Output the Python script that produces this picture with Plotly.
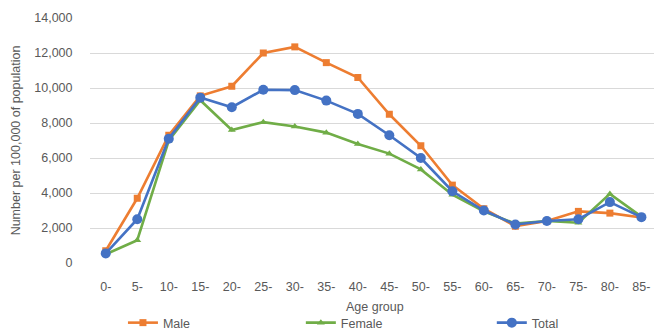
import plotly.graph_objects as go

# Age groups and rates per 100,000 population
age_groups = ["0-", "5-", "10-", "15-", "20-", "25-", "30-", "35-", "40-",
              "45-", "50-", "55-", "60-", "65-", "70-", "75-", "80-", "85-"]
male = [700, 3700, 7300, 9550, 10100, 12000, 12350, 11450, 10600,
        8500, 6700, 4450, 3100, 2100, 2400, 2950, 2850, 2600]
female = [500, 1300, 7000, 9300, 7600, 8050, 7800, 7450, 6800,
          6250, 5350, 3900, 2950, 2250, 2400, 2300, 3950, 2650]
total = [550, 2500, 7100, 9450, 8900, 9900, 9880, 9280, 8520,
         7300, 6000, 4100, 3000, 2200, 2400, 2500, 3480, 2620]
y_ticks = [0, 2000, 4000, 6000, 8000, 10000, 12000, 14000]

font_family = "Liberation Sans"
text_color = "#595959"
font_size = 12.5

fig = go.Figure()
series = [
    ("Male", male, "#ED7D31", "square", 7, "legend", 0.188),
    ("Female", female, "#70AD47", "triangle-up", 7, "legend2", 0.46),
    ("Total", total, "#4472C4", "circle", 10, "legend3", 0.752),
]
legend_layout = {}
for name, vals, color, symbol, size, leg, lx in series:
    fig.add_trace(go.Scatter(
        x=list(range(len(age_groups))), y=vals, name=name,
        mode="lines+markers",
        line=dict(color=color, width=2.6),
        marker=dict(color=color, symbol=symbol, size=size),
        legend=leg,
    ))
    legend_layout[leg] = dict(
        orientation="h", xref="container", yref="container",
        x=lx, y=0.03, xanchor="left", yanchor="middle",
        font=dict(size=font_size, color=text_color, family=font_family),
        itemwidth=30, bgcolor="rgba(0,0,0,0)",
    )

fig.update_layout(
    width=654, height=333,
    margin=dict(l=90, r=0, t=18, b=70, autoexpand=False),
    paper_bgcolor="white", plot_bgcolor="white",
    font=dict(family=font_family, size=font_size, color=text_color),
    showlegend=True,
    **legend_layout,
)
# x-axis title placed as a text annotation below the tick labels
fig.add_annotation(
    text="Age group", xref="paper", yref="paper", x=0.505, y=-0.18,
    xanchor="center", yanchor="middle", showarrow=False,
    font=dict(size=font_size, color=text_color, family=font_family),
)
fig.update_xaxes(
    tickmode="array", tickvals=list(range(len(age_groups))), ticktext=age_groups,
    range=[-0.5, 17.4], showgrid=False, showline=False, zeroline=False,
    ticks="outside", ticklen=12, tickcolor="rgba(0,0,0,0)",
    automargin=False,
)
fig.update_yaxes(
    range=[0, 14000], tickvals=y_ticks,
    ticktext=[f"{v:,}" for v in y_ticks],
    showgrid=True, gridcolor="#D9D9D9", gridwidth=1,
    zeroline=False, showline=False, automargin=False,
    ticks="outside", ticklen=14, tickcolor="rgba(0,0,0,0)",
    title=dict(text="Number per 100,000 of population", standoff=10,
               font=dict(size=font_size, color=text_color)),
)

fig.write_html("out.html")
